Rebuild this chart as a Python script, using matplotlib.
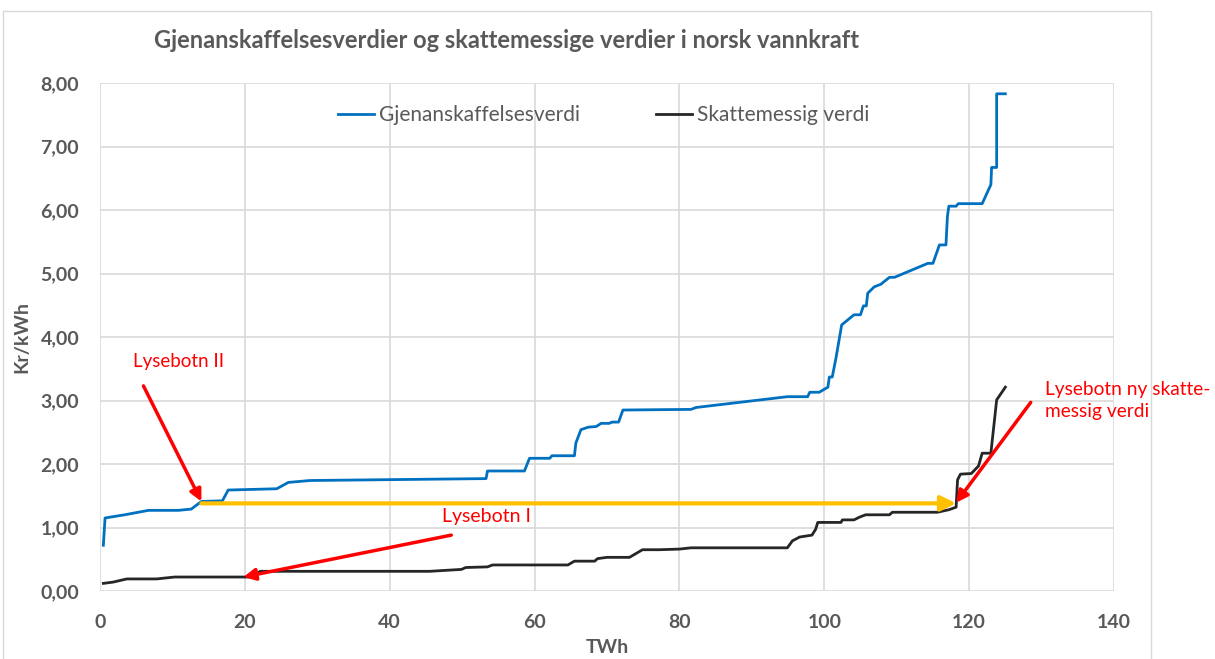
import matplotlib
matplotlib.use("Agg")
import matplotlib.pyplot as plt
from matplotlib.patches import Rectangle

plt.rcParams['font.family'] = ['Lato', 'DejaVu Sans']

# Gjenanskaffelsesverdi (blue)
gjen_twh = [0.46, 0.7, 3.4, 6.7, 10.8, 12.6, 14.0, 16.9, 17.7, 24.4, 26.0, 29.0, 53.3, 53.5,
            58.6, 59.3, 62.1, 62.4, 65.5, 65.7, 66.4, 67.4, 68.5, 69.2, 70.3, 70.7, 71.6, 72.2,
            81.6, 82.3, 94.9, 97.7, 98.0, 99.3, 100.5, 100.7, 101.1, 101.6, 102.4, 104.1, 105.0,
            105.4, 105.8, 106.0, 106.9, 107.8, 109.0, 109.7, 114.3, 115.0, 115.9, 116.8, 117.0,
            117.2, 118.2, 118.5, 121.8, 123.0, 123.1, 123.8, 123.8, 125.0]
gjen_kr = [0.72, 1.15, 1.20, 1.27, 1.27, 1.29, 1.41, 1.42, 1.59, 1.61, 1.71, 1.74, 1.77, 1.89,
           1.89, 2.09, 2.09, 2.13, 2.13, 2.33, 2.54, 2.58, 2.59, 2.64, 2.64, 2.66, 2.66, 2.85,
           2.86, 2.89, 3.06, 3.06, 3.13, 3.13, 3.21, 3.37, 3.37, 3.66, 4.19, 4.35, 4.35,
           4.49, 4.49, 4.69, 4.79, 4.83, 4.94, 4.94, 5.16, 5.16, 5.45, 5.45, 5.90,
           6.06, 6.06, 6.10, 6.10, 6.40, 6.67, 6.67, 7.83, 7.83]

# Skattemessig verdi (black)
skatt_twh = [0.46, 1.8, 3.7, 7.8, 10.3, 21.1, 21.6, 22.1, 45.5, 49.9, 50.5, 53.5, 54.2, 57.2,
             64.6, 65.5, 68.3, 68.7, 70.0, 73.1, 74.9, 77.2, 80.0, 81.6, 94.9, 95.6, 96.6,
             98.3, 98.8, 99.1, 102.3, 102.5, 104.1, 104.8, 105.7, 109.0, 109.4, 115.6, 117.2,
             118.2, 118.4, 118.8, 120.3, 121.3, 121.8, 123.0, 123.8, 125.0]
skatt_kr = [0.12, 0.14, 0.19, 0.19, 0.22, 0.22, 0.26, 0.31, 0.31, 0.34, 0.37, 0.38, 0.41, 0.41,
            0.41, 0.47, 0.47, 0.51, 0.53, 0.53, 0.65, 0.65, 0.66, 0.68, 0.68, 0.79, 0.85,
            0.88, 0.97, 1.08, 1.08, 1.12, 1.12, 1.16, 1.20, 1.20, 1.24, 1.24, 1.28,
            1.32, 1.75, 1.84, 1.85, 1.97, 2.17, 2.17, 3.01, 3.21]

x_ticks = [0, 20, 40, 60, 80, 100, 120, 140]
y_ticks = [0, 1, 2, 3, 4, 5, 6, 7, 8]
y_labels = ["0,00", "1,00", "2,00", "3,00", "4,00", "5,00", "6,00", "7,00", "8,00"]

# annotations: arrow tail -> arrow head
lysebotn2_tail, lysebotn2_head = (6.0, 3.23), (14.0, 1.41)
lysebotn1_tail, lysebotn1_head = (48.5, 0.88), (19.8, 0.22)
lysebotn_ny_tail, lysebotn_ny_head = (128.5, 2.97), (118.2, 1.39)
yellow_start, yellow_end = (14.0, 1.38), (118.2, 1.38)

grey = '#595959'
fig = plt.figure(figsize=(12.15, 6.59), dpi=100)
fig.patches.append(Rectangle((3 / 1215, -0.1), 1148 / 1215, 1.1 - 11 / 659,
                             transform=fig.transFigure, fill=False,
                             edgecolor='#d9d9d9', lw=1))
ax = fig.add_axes([100 / 1215, 1 - 591 / 659, 1014 / 1215, 508 / 659])

ax.plot(gjen_twh, gjen_kr, color='#0070C0', lw=2, label='Gjenanskaffelsesverdi', zorder=3)
ax.plot(skatt_twh, skatt_kr, color='#262626', lw=2, label='Skattemessig verdi', zorder=3)

ax.set_xlim(0, 140)
ax.set_ylim(0, 8)
ax.set_xticks(x_ticks)
ax.set_yticks(y_ticks)
ax.set_yticklabels(y_labels)
ax.grid(True, color='#d9d9d9', lw=1.2)
ax.set_axisbelow(True)
for s in ax.spines.values():
    s.set_visible(False)
ax.tick_params(length=0, labelsize=14, labelcolor=grey)
ax.tick_params(axis='y', pad=15)
ax.tick_params(axis='x', pad=16.5)
for lab in ax.get_xticklabels() + ax.get_yticklabels():
    lab.set_fontweight('bold')

ax.set_xlabel('TWh', fontsize=14, fontweight='bold', color=grey, labelpad=6)
ax.set_ylabel('Kr/kWh', fontsize=14, fontweight='bold', color=grey, labelpad=7)

fig.text(507 / 1215, 1 - 40 / 659, 'Gjenanskaffelsesverdier og skattemessige verdier i norsk vannkraft',
         ha='center', va='center', fontsize=17, fontweight='bold', color=grey)

leg = ax.legend(loc='center', bbox_to_anchor=(0.4966, 0.937), ncol=2, frameon=False,
                fontsize=15, handlelength=1.73, handletextpad=0.24, columnspacing=3.65)
for t in leg.get_texts():
    t.set_color(grey)

# yellow arrow
ax.annotate('', xy=yellow_end, xytext=yellow_start,
            arrowprops=dict(arrowstyle='-|>,head_length=0.9,head_width=0.45', color='#FFC000',
                            lw=3, shrinkA=0, shrinkB=0), zorder=4)

red_arrow = dict(arrowstyle='-|>,head_length=0.7,head_width=0.35', color='#FF0000', lw=2.5,
                 shrinkA=0, shrinkB=0)
ax.annotate('', xy=lysebotn2_head, xytext=lysebotn2_tail, arrowprops=red_arrow, zorder=5)
ax.annotate('', xy=lysebotn1_head, xytext=lysebotn1_tail, arrowprops=red_arrow, zorder=5)
ax.annotate('', xy=lysebotn_ny_head, xytext=lysebotn_ny_tail, arrowprops=red_arrow, zorder=5)

ax.text(10.8, 3.61, 'Lysebotn II', color='#FF0000', fontsize=13.5, ha='center', va='center')
ax.text(53.4, 1.17, 'Lysebotn I', color='#FF0000', fontsize=14, ha='center', va='center')
ax.text(130.5, 3.0, 'Lysebotn ny skatte-\nmessig verdi', color='#FF0000', fontsize=13.8,
        ha='left', va='center', linespacing=1.3, clip_on=False)

fig.savefig('out.png', dpi=100)
